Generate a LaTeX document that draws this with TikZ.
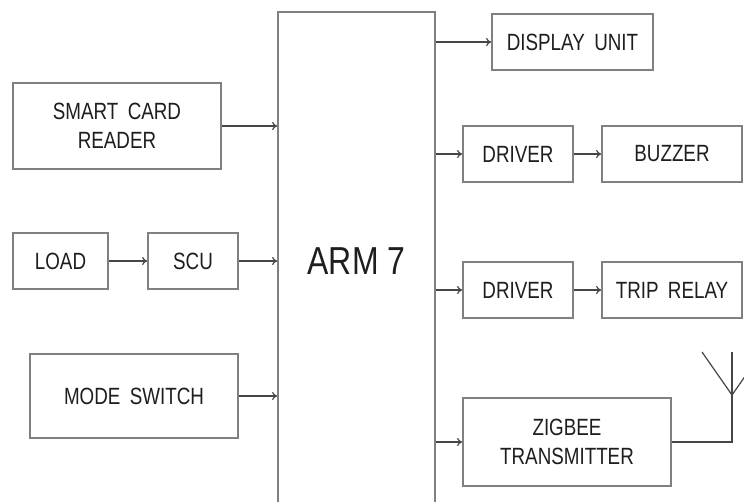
\documentclass[tikz,border=0pt]{standalone}
\usepackage{fontspec}
\setmainfont{Liberation Sans}[FakeStretch=0.8,WordSpace=1.8]
\newfontfamily\armfont{Liberation Sans}[FakeStretch=0.82]
\usetikzlibrary{arrows.meta}
\definecolor{boxgray}{RGB}{128,128,128}
\definecolor{linegray}{RGB}{70,70,70}
\definecolor{txt}{RGB}{30,30,30}
\tikzset{
  blk/.style={draw=boxgray, line width=1.8pt, fill=white, inner sep=0pt, align=center,
    text=txt, font=\fontsize{23.5}{29}\selectfont},
  conn/.style={draw=linegray, line width=1.2pt, -{To[length=5pt,width=8pt]}},
  wire/.style={draw=linegray, line width=1.2pt}
}
\begin{document}
\begin{tikzpicture}[x=1pt,y=-1pt]
\clip (0,0) rectangle (744,501);
\useasboundingbox (0,0) rectangle (744,501);
\fill[white] (0,0) rectangle (744,501);
% nodes
\node[blk, minimum width=157pt, minimum height=498pt, font=\armfont\fontsize{39}{42}\selectfont] (arm) at (356.5,261) {ARM 7};
\node[blk, minimum width=208pt, minimum height=86pt] (scr) at (117,126) {SMART CARD\\READER};
\node[blk, minimum width=95pt, minimum height=56pt] (load) at (60.5,261) {LOAD};
\node[blk, minimum width=90pt, minimum height=56pt] (scu) at (193,261) {SCU};
\node[blk, minimum width=208pt, minimum height=84pt] (mode) at (134,396) {MODE SWITCH};
\node[blk, minimum width=161pt, minimum height=56pt] (disp) at (572.5,42) {DISPLAY UNIT};
\node[blk, minimum width=110pt, minimum height=56pt] (drv1) at (518,154) {DRIVER};
\node[blk, minimum width=140pt, minimum height=56pt] (buz) at (672,154) {BUZZER};
\node[blk, minimum width=110pt, minimum height=56pt] (drv2) at (518,290) {DRIVER};
\node[blk, minimum width=140pt, minimum height=56pt] (trip) at (672,290) {TRIP RELAY};
\node[blk, minimum width=208pt, minimum height=88pt] (zig) at (567,442) {ZIGBEE\\TRANSMITTER};
% connectors
\draw[conn] (scr.east) -- (scr.east -| arm.west);
\draw[conn] (load.east) -- (scu.west);
\draw[conn] (scu.east) -- (scu.east -| arm.west);
\draw[conn] (mode.east) -- (mode.east -| arm.west);
\draw[conn] (disp.west -| arm.east) -- (disp.west);
\draw[conn] (drv1.west -| arm.east) -- (drv1.west);
\draw[conn] (drv1.east) -- (buz.west);
\draw[conn] (drv2.west -| arm.east) -- (drv2.west);
\draw[conn] (drv2.east) -- (trip.west);
\draw[conn] (zig.west -| arm.east) -- (zig.west);
% antenna
\coordinate (ant) at (732,395);
\coordinate (anttop) at (732,352);
\coordinate (antl) at (702,352);
\coordinate (antr) at (762,352);
\draw[wire] (zig.east) -| (ant) -- (anttop);
\draw[wire] (antl) -- (ant) -- (antr);
\end{tikzpicture}
\end{document}
